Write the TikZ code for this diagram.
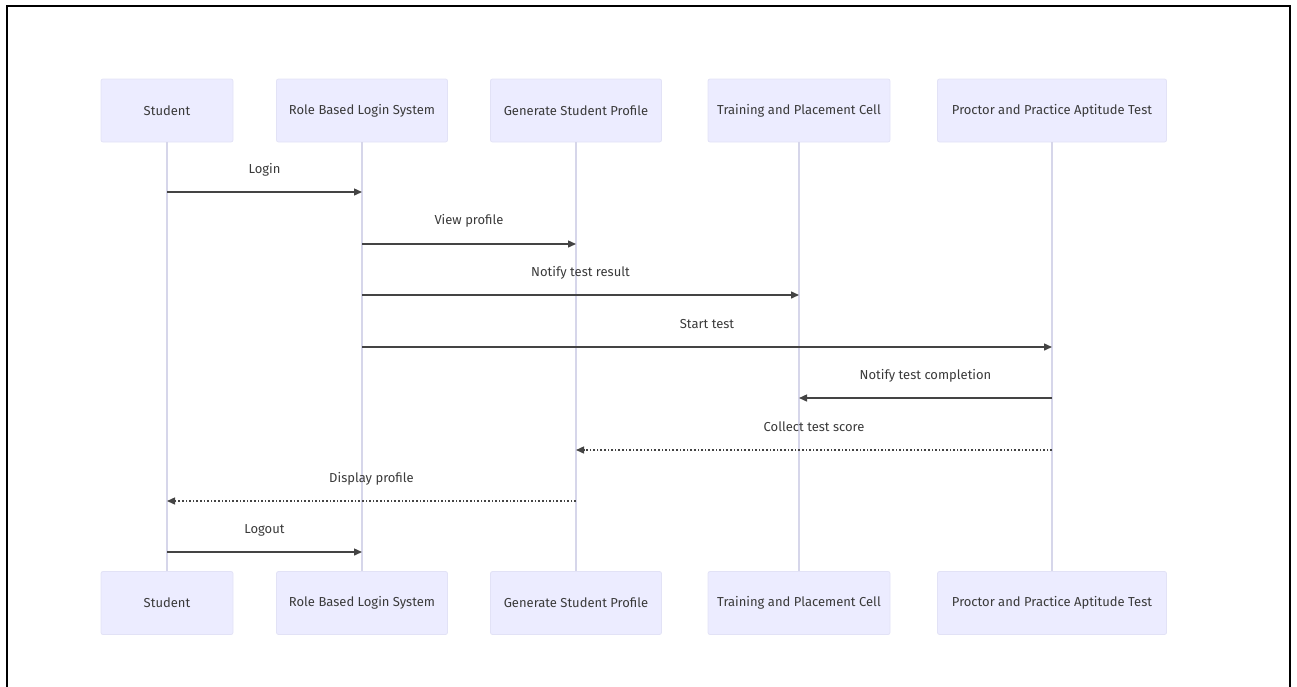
\documentclass[tikz,border=0pt]{standalone}
\usepackage{fontspec}
\setmainfont{Fira Sans}
\usetikzlibrary{arrows.meta}
\definecolor{boxfill}{HTML}{ECECFF}
\definecolor{boxline}{HTML}{E2E2F6}
\definecolor{lifeline}{HTML}{D6D6EA}
\definecolor{msgline}{HTML}{444444}
\definecolor{txt}{HTML}{3A3A3A}
\tikzset{
  actor/.style={draw=boxline, fill=boxfill, rounded corners=2pt, line width=0.8pt,
     minimum height=63pt, text=txt, font=\fontsize{13}{15}\selectfont},
  life/.style={draw=lifeline, line width=1.2pt},
  msg/.style={draw=msgline, line width=1.4pt, -{Triangle[length=8pt,width=7pt]}},
  reply/.style={msg, dash pattern=on 1.6pt off 2pt},
  lbl/.style={text=txt, font=\fontsize{13}{15}\selectfont},
  frame/.style={draw=black, line width=1.6pt}
}
\begin{document}
\begin{tikzpicture}[x=1pt,y=-1pt]
\useasboundingbox (0,0) rectangle (1297,686);
\draw[frame] (7,690) -- (7,6) -- (1290,6) -- (1290,690);
% top actors
\node[actor, minimum width=132pt] (s1) at (167,110.5) {Student};
\node[actor, minimum width=171pt] (r1) at (362,110.5) {Role Based Login System};
\node[actor, minimum width=171pt] (g1) at (576,110.5) {Generate Student Profile};
\node[actor, minimum width=182pt] (t1) at (799,110.5) {Training and Placement Cell};
\node[actor, minimum width=229pt] (p1) at (1052,110.5) {Proctor and Practice Aptitude Test};
% bottom actors
\node[actor, minimum width=132pt] (s2) at (167,603) {Student};
\node[actor, minimum width=171pt] (r2) at (362,603) {Role Based Login System};
\node[actor, minimum width=171pt] (g2) at (576,603) {Generate Student Profile};
\node[actor, minimum width=182pt] (t2) at (799,603) {Training and Placement Cell};
\node[actor, minimum width=229pt] (p2) at (1052,603) {Proctor and Practice Aptitude Test};
% lifelines
\draw[life] (s1.south) -- (s2.north);
\draw[life] (r1.south) -- (r2.north);
\draw[life] (g1.south) -- (g2.north);
\draw[life] (t1.south) -- (t2.north);
\draw[life] (p1.south) -- (p2.north);
% message anchor coordinates
\coordinate (sA) at (167,192);   \coordinate (rA) at (362,192);
\coordinate (rB) at (362,244);   \coordinate (gB) at (576,244);
\coordinate (rC) at (362,295);   \coordinate (tC) at (799,295);
\coordinate (rD) at (362,347);   \coordinate (pD) at (1052,347);
\coordinate (pE) at (1052,398);  \coordinate (tE) at (799,398);
\coordinate (pF) at (1052,450);  \coordinate (gF) at (576,450);
\coordinate (gG) at (576,501);   \coordinate (sG) at (167,501);
\coordinate (sH) at (167,552);   \coordinate (rH) at (362,552);
\draw[msg] (sA) -- (rA);
\node[lbl] (l1) at (264.5,170) {Login};
\draw[msg] (rB) -- (gB);
\node[lbl] (l2) at (469,221) {View profile};
\draw[msg] (rC) -- (tC);
\node[lbl] (l3) at (580.5,273) {Notify test result};
\draw[msg] (rD) -- (pD);
\node[lbl] (l4) at (707,324) {Start test};
\draw[msg] (pE) -- (tE);
\node[lbl] (l5) at (925.5,376) {Notify test completion};
\draw[reply] (pF) -- (gF);
\node[lbl] (l6) at (814,427) {Collect test score};
\draw[reply] (gG) -- (sG);
\node[lbl] (l7) at (371.5,479) {Display profile};
\draw[msg] (sH) -- (rH);
\node[lbl] (l8) at (264.5,530) {Logout};
\end{tikzpicture}
\end{document}
